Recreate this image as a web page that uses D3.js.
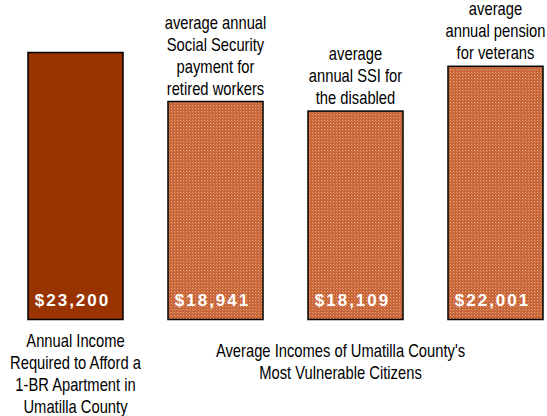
<!DOCTYPE html>
<html><head><meta charset="utf-8">
<script src="https://cdn.jsdelivr.net/npm/d3@7/dist/d3.min.js"></script>
<style>
html,body{margin:0;padding:0;background:#fff;}
text{font-family:"Liberation Sans",Arial,sans-serif;}
</style></head>
<body>
<svg id="c" width="547" height="416"></svg>
<script>
const categories = ["required", "socialSecurity", "ssi", "pension"];
const values = [23200, 18941, 18109, 22001];
const valueLabels = ["$23,200", "$18,941", "$18,109", "$22,001"];
const topLabels = [
  [],
  ["average annual", "Social Security", "payment for", "retired workers"],
  ["average", "annual SSI for", "the disabled"],
  ["average", "annual pension", "for veterans"]
];
const leftCaption = ["Annual Income", "Required to Afford a", "1-BR Apartment in", "Umatilla County"];
const groupCaption = ["Average Incomes of Umatilla County's", "Most Vulnerable Citizens"];

const svg = d3.select("#c");
const defs = svg.append("defs");
const pat = defs.append("pattern").attr("id","dots").attr("patternUnits","userSpaceOnUse")
  .attr("width",3).attr("height",3);
pat.append("rect").attr("width",3).attr("height",3).attr("fill","#c6643a");
pat.append("rect").attr("x",0).attr("y",0).attr("width",1).attr("height",1).attr("fill","#eca676");
pat.append("rect").attr("x",1).attr("y",1).attr("width",1).attr("height",1).attr("fill","#d98352");

const x = d3.scaleBand().domain(categories).range([28, 543]).paddingInner(45/140).paddingOuter(0);
const y = d3.scaleLinear().domain([0, 23200]).range([319.5, 52.5]);

const g = svg.append("g");
g.selectAll("rect.bar").data(categories).join("rect")
  .attr("class","bar")
  .attr("x", d => x(d))
  .attr("y", (d,i) => y(values[i]))
  .attr("width", x.bandwidth())
  .attr("height", (d,i) => y(0) - y(values[i]))
  .attr("fill", (d,i) => i === 0 ? "#993300" : "url(#dots)")
  .attr("stroke", "#000")
  .attr("stroke-width", 1.5);

g.selectAll("text.val").data(categories).join("text")
  .attr("class","val")
  .attr("x", d => x(d) + x.bandwidth()/2 - 3)
  .attr("y", 306)
  .attr("text-anchor","middle")
  .attr("fill","#fff")
  .style("font-weight","bold")
  .style("font-size","17px")
  .style("letter-spacing","2px")
  .text((d,i) => valueLabels[i]);

const lh = 22;
const sx = 0.82;
function narrowText(cx, lines, yFor) {
  const t = g.append("text").attr("text-anchor","middle").style("font-size","18px").attr("fill","#000")
    .attr("transform", `translate(${cx},0) scale(${sx},1)`);
  lines.forEach((l,j) => t.append("tspan").attr("x", 0).attr("y", yFor(j)).text(l));
}

categories.forEach((c,i) => {
  const lines = topLabels[i];
  const top = y(values[i]);
  narrowText(x(c) + x.bandwidth()/2, lines, j => top - 7 - (lines.length - 1 - j) * lh);
});

narrowText(x(categories[0]) + x.bandwidth()/2, leftCaption, j => 347 + j*lh);
const gx = (x(categories[1]) + x(categories[3]) + x.bandwidth())/2;
narrowText(gx - 15, groupCaption, j => 357 + j*lh);
</script>
</body></html>
